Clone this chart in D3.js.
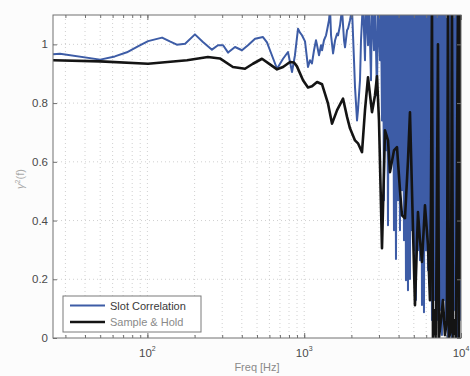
<!DOCTYPE html>
<html><head><meta charset="utf-8">
<script src="https://cdn.jsdelivr.net/npm/d3@7"></script>
<style>
body{margin:0;background:#fcfcfc}
svg{display:block}
text{font-family:"Liberation Sans",Arial,Helvetica,sans-serif}
</style>
</head><body>
<svg id="chart" width="470" height="376"></svg>
<script>
// ---- data ----
const slotFreq = [25,27.7,50,62,74,87,101,124,139,154,174,201,226,258,282,304,327,362,401,438,486,546,579,605,671,733,788,812,836,873,913,940,968,1012,1057,1089,1121,1155,1189,1208,1243,1280,1300,1337,1378,1399,1439,1462,1483,1528,1574,1621,1644,1693,1742,1795,1821,1876,1904,1959,2018,2078,2109,2172,2203,2269,2303,2371,
2442,2478,2552,2590,2667,2706,2787,2828,2912,2955,3043,3088,3134,3180,3227,3275,3323,3373,3423,3473,3525,3577,3630,3683,3738,3793,3849,3906,3964,4022,4082,4142,4203,4266,4329,4393,4458,4524,4591,4658,4727,4797,4868,4940,5013,5087,5162,5239,5316,5395,5475,5556,5638,5721,5806,5892,5979,6067,6157,6248,6340,6434,6529,6626,6724,6823,6924,7026,7130,7236,7343,7451,7561,7673,7787,7902,8019,8137,8258,8380,8504,8629,8757,8887,9018,9151,9287,9424,9563,9705,9848,10000];
const slotGamma = [0.966,0.968,0.948,0.959,0.973,0.993,1.011,1.023,1.010,0.999,1.002,1.034,1.008,0.982,0.997,0.997,0.972,0.991,0.980,0.997,1.019,1.025,1.007,0.980,0.917,0.951,0.974,0.940,0.906,0.963,1.053,1.040,1.031,1.010,0.923,0.946,0.935,0.980,1.014,0.997,0.963,0.997,0.980,1.014,1.031,1.048,1.082,1.12,1.031,0.969,1.014,1.037,1.031,1.065,1.12,1.014,0.990,1.048,1.054,1.082,1.12,0.946,0.854,0.741,0.776,0.878,1.014,1.15,
0.946,1.15,0.997,1.15,0.878,1.15,0.980,1.15,0.827,1.15,0.946,1.15,0.741,1.15,0.469,1.15,0.639,1.15,0.384,1.15,0.571,1.15,0.605,1.15,0.367,1.15,0.269,1.15,0.469,1.15,0.367,1.15,0.503,1.15,0.333,1.15,0.197,1.15,0.163,1.15,0.201,1.15,0.367,1.15,0.299,1.15,0.129,1.15,0.299,1.15,0.265,1.15,0.112,1.15,0.088,1.15,0.299,1.15,0.231,1.15,0.163,1.15,0.061,1.15,0.129,1.15,0.027,1.15,0.061,1.15,0.095,1.15,0.010,1.15,0.129,1.15,0.061,1.15,0.0,1.15,0.061,1.15,0.0,1.15,0.095,1.15,0.010,1.15,0.0,1.15,0.061,1.15];

const holdFreq = [25,50,101,179,243,290,351,419,471,538,605,671,733,812,861,899,983,1057,1121,1208,1300,1418,1505,1621,1769,1876,1959,2109,2203,2337,2442,2552,2706,2828,2912,2999,3134,3275,3423,3525,3738,3906,4082,4203,4393,4591,4727,4868,5087,5316,5475,5638,5892,6157,6340,6434,6529,6626,6823,6924,7130,7236,7451,7673,7902,8137,8258,8380,8629,8757,8887,9151,9287,9563,9705,9848,10000];
const holdGamma = [0.946,0.942,0.934,0.946,0.957,0.952,0.923,0.917,0.934,0.951,0.932,0.915,0.923,0.940,0.938,0.925,0.878,0.853,0.857,0.872,0.864,0.799,0.730,0.776,0.815,0.753,0.714,0.673,0.663,0.633,0.776,0.888,0.769,0.827,0.891,0.741,0.306,0.707,0.673,0.565,0.639,0.650,0.503,0.418,0.408,0.605,0.769,0.503,0.112,0.429,0.333,0.259,0.452,0.316,0.129,0.469,1.15,0.0,0.095,0.0,1.0,0.0,0.061,0.129,0.010,0.061,1.15,0.0,0.027,1.15,0.0,0.061,0.0,1.15,0.0,1.15,0.2];

const yTickValues = [0,0.2,0.4,0.6,0.8,1];
const yTickLabels = ["0","0.2","0.4","0.6","0.8","1"];
const xMajorValues = [100,1000,10000];
const xMajorExponents = ["2","3","4"];
const seriesNames = ["Slot Correlation","Sample & Hold"];
const seriesColors = ["#3d5ca6","#141414"];

// ---- layout ----
const W = 470, H = 376;
const L = 53, R = 461, T = 15, B = 338;
const svg = d3.select("#chart");
svg.append("rect").attr("width",W).attr("height",H).attr("fill","#fcfcfc");
svg.append("rect").attr("x",L).attr("y",T).attr("width",R-L).attr("height",B-T).attr("fill","#ffffff");

const x = d3.scaleLog().domain([25,10000]).range([L,R]);
const y = d3.scaleLinear().domain([0,1.1]).range([B,T]);

const xMinor = [];
for (let p = 1; p <= 3; p++) for (let m = 1; m <= 9; m++) {
  const v = m * Math.pow(10,p);
  if (v >= 25 && v <= 10000) xMinor.push(v);
}
xMinor.push(10000);

// grid
const grid = svg.append("g").attr("stroke","#c4c4c4").attr("stroke-width",0.8).attr("stroke-dasharray","1,3");
grid.selectAll("line.vx").data(xMinor.filter(v=>v>25 && v<10000)).join("line")
  .attr("x1",d=>x(d)).attr("x2",d=>x(d)).attr("y1",T).attr("y2",B);
grid.selectAll("line.hy").data(yTickValues.filter(v=>v>0)).join("line")
  .attr("x1",L).attr("x2",R).attr("y1",d=>y(d)).attr("y2",d=>y(d));

svg.append("clipPath").attr("id","clip").append("rect").attr("x",L).attr("y",T).attr("width",R-L).attr("height",B-T);

const line = d3.line().x(d=>x(d[0])).y(d=>y(d[1]));
const slotData = slotFreq.map((f,i)=>[f,slotGamma[i]]);
const holdData = holdFreq.map((f,i)=>[f,holdGamma[i]]);
const plot = svg.append("g").attr("clip-path","url(#clip)");
plot.append("path").datum(slotData).attr("d",line).attr("fill","none")
  .attr("stroke",seriesColors[0]).attr("stroke-width",2.0).attr("stroke-linejoin","round");
plot.append("path").datum(holdData).attr("d",line).attr("fill","none")
  .attr("stroke",seriesColors[1]).attr("stroke-width",2.6).attr("stroke-linejoin","round");

// axes (ticks inside)
const axCol = "#707070";
function styleAxis(g){ g.select(".domain").remove(); g.selectAll("line").attr("stroke",axCol); g.selectAll("text").remove(); }
svg.append("g").attr("transform",`translate(0,${B})`)
  .call(d3.axisBottom(x).tickValues(xMinor).tickSize(-3)).call(styleAxis);
svg.append("g").attr("transform",`translate(0,${T})`)
  .call(d3.axisTop(x).tickValues(xMinor).tickSize(-3)).call(styleAxis);
svg.append("g").attr("transform",`translate(0,${B})`)
  .call(d3.axisBottom(x).tickValues(xMajorValues).tickSize(-5)).call(styleAxis);
svg.append("g").attr("transform",`translate(0,${T})`)
  .call(d3.axisTop(x).tickValues(xMajorValues).tickSize(-5)).call(styleAxis);
svg.append("g").attr("transform",`translate(${L},0)`)
  .call(d3.axisLeft(y).tickValues(yTickValues).tickSize(-4)).call(styleAxis);
svg.append("g").attr("transform",`translate(${R},0)`)
  .call(d3.axisRight(y).tickValues(yTickValues).tickSize(-4)).call(styleAxis);
svg.append("rect").attr("x",L).attr("y",T).attr("width",R-L).attr("height",B-T)
  .attr("fill","none").attr("stroke",axCol).attr("stroke-width",1);

// y tick labels
svg.append("g").selectAll("text").data(yTickValues).join("text")
  .attr("x",L-5).attr("y",d=>y(d)+4).attr("text-anchor","end")
  .attr("font-size",11.5).attr("fill","#4a4a4a").text((d,i)=>yTickLabels[i]);

// x tick labels with superscripts
const xl = svg.append("g").selectAll("text").data(xMajorValues).join("text")
  .attr("x",d=>x(d)).attr("y",357).attr("text-anchor","middle")
  .attr("font-size",11.5).attr("fill","#4a4a4a");
xl.append("tspan").text("10");
xl.append("tspan").attr("dy",-6).attr("font-size",7).text((d,i)=>xMajorExponents[i]);

// axis titles
svg.append("text").attr("x",257).attr("y",371).attr("text-anchor","middle")
  .attr("font-size",11).attr("fill","#8a8a8a").text("Freq [Hz]");
const yl = svg.append("text").attr("transform","translate(24,179) rotate(-90)")
  .attr("text-anchor","middle").attr("font-size",11).attr("fill","#a8a8a8");
yl.append("tspan").attr("font-style","italic").text("γ");
yl.append("tspan").attr("dy",-4).attr("font-size",7).text("2");
yl.append("tspan").attr("dy",4).text("(f)");

// legend
const lg = svg.append("g");
lg.append("rect").attr("x",63).attr("y",296).attr("width",138).attr("height",36)
  .attr("fill","#ffffff").attr("stroke","#7a7a7a").attr("stroke-width",1);
const legendTextColors = ["#3a3a3a","#8a8a8a"];
seriesNames.forEach((name,i)=>{
  const yy = 305.5 + i*16.5;
  lg.append("line").attr("x1",70).attr("x2",105).attr("y1",yy).attr("y2",yy)
    .attr("stroke",seriesColors[i]).attr("stroke-width",i?2.6:2.0);
  lg.append("text").attr("x",110).attr("y",yy+4).attr("font-size",11)
    .attr("fill",legendTextColors[i]).text(name);
});
</script>
</body></html>
